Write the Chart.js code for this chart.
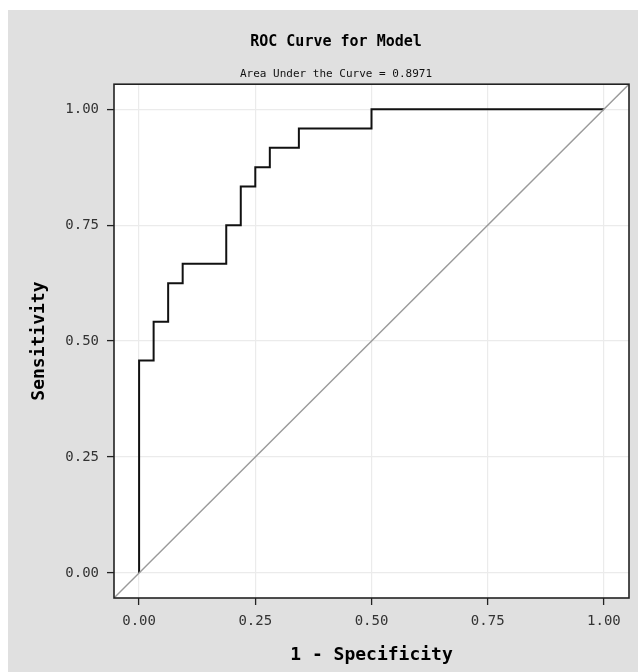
<!DOCTYPE html>
<html>
<head>
<meta charset="utf-8">
<script src="https://cdn.jsdelivr.net/npm/chart.js@4"></script>
<style>
  body { margin: 0; background: #fff; }
  #panel { position: absolute; left: 8px; top: 10px; width: 630px; height: 662px; background: #e0e0e0; }
</style>
</head>
<body>
<div id="panel"><canvas id="roc" width="630" height="662"></canvas></div>
<script>
// ROC curve corner points (1 - specificity, sensitivity)
const fpr = [0, 0, 0.03125, 0.03125, 0.0625, 0.0625, 0.09375, 0.09375, 0.1875, 0.1875,
             0.21875, 0.21875, 0.25, 0.25, 0.28125, 0.28125, 0.34375, 0.34375, 0.5, 0.5, 1];
const tpr = [0, 0.4583, 0.4583, 0.5417, 0.5417, 0.625, 0.625, 0.6667, 0.6667, 0.75,
             0.75, 0.8333, 0.8333, 0.875, 0.875, 0.9167, 0.9167, 0.9583, 0.9583, 1, 1];
const tickVals = [0, 0.25, 0.5, 0.75, 1];
const axisMin = -0.054;
const axisMax = 1.054;
const auc = 0.8971;

document.addEventListener('DOMContentLoaded', () => {
    const mono = "'DejaVu Sans Mono', monospace";

    const plotFrame = {
        id: 'plotFrame',
        beforeDraw(chart) {
            const a = chart.chartArea;
            const ctx = chart.ctx;
            ctx.save();
            ctx.fillStyle = '#ffffff';
            ctx.fillRect(a.left, a.top, a.right - a.left, a.bottom - a.top);
            ctx.restore();
        },
        afterDatasetsDraw(chart) {
            const a = chart.chartArea;
            const ctx = chart.ctx;
            ctx.save();
            ctx.strokeStyle = '#222222';
            ctx.lineWidth = 1.6;
            ctx.strokeRect(a.left, a.top, a.right - a.left, a.bottom - a.top);
            ctx.restore();
        }
    };

    const setTicks = scale => {
        scale.ticks = tickVals.map(v => ({ value: v }));
    };

    const axis = (extra) => Object.assign({
        type: 'linear',
        min: axisMin,
        max: axisMax,
        afterBuildTicks: setTicks,
        border: { display: false },
        grid: {
            color: '#ebebeb',
            lineWidth: 1.2,
            tickColor: '#222222',
            tickWidth: 1.3,
            tickLength: 7
        },
        ticks: {
            padding: 8,
            color: '#333333',
            font: { family: mono, size: 14 },
            callback: v => v.toFixed(2)
        }
    }, extra);

    new Chart(document.getElementById('roc'), {
        type: 'scatter',
        data: {
            datasets: [
                {
                    label: 'Reference',
                    data: [{ x: axisMin, y: axisMin }, { x: axisMax, y: axisMax }],
                    showLine: true,
                    borderColor: '#9a9a9a',
                    borderWidth: 1.4,
                    pointRadius: 0,
                    order: 0
                },
                {
                    label: 'ROC',
                    data: fpr.map((x, i) => ({ x: x, y: tpr[i] })),
                    showLine: true,
                    borderColor: '#111111',
                    borderWidth: 2,
                    pointRadius: 0,
                    order: 1
                }
            ]
        },
        options: {
            responsive: false,
            animation: false,
            layout: { padding: { left: 35, right: 9, top: 0, bottom: 0 } },
            plugins: {
                legend: { display: false },
                tooltip: { enabled: false },
                title: {
                    display: true,
                    text: 'ROC Curve for Model',
                    color: '#000000',
                    font: { family: mono, size: 15, weight: 'bold' },
                    padding: { top: 23, bottom: 0 }
                },
                subtitle: {
                    display: true,
                    text: 'Area Under the Curve = ' + auc.toFixed(4),
                    color: '#111111',
                    font: { family: mono, size: 11 },
                    padding: { top: 17, bottom: 3 }
                }
            },
            scales: {
                x: axis({
                    position: 'bottom',
                    afterFit: s => { s.height = 74; },
                    title: {
                        display: true,
                        text: '1 - Specificity',
                        color: '#000000',
                        font: { family: mono, size: 18, weight: 'bold' },
                        padding: { top: 0, bottom: 6 }
                    }
                }),
                y: axis({
                    position: 'left',
                    afterFit: s => { s.width = 71; },
                    title: {
                        display: true,
                        text: 'Sensitivity',
                        color: '#000000',
                        font: { family: mono, size: 18, weight: 'bold' },
                        padding: { top: -14, bottom: 0 }
                    }
                })
            }
        },
        plugins: [plotFrame]
    });
});
</script>
</body>
</html>
